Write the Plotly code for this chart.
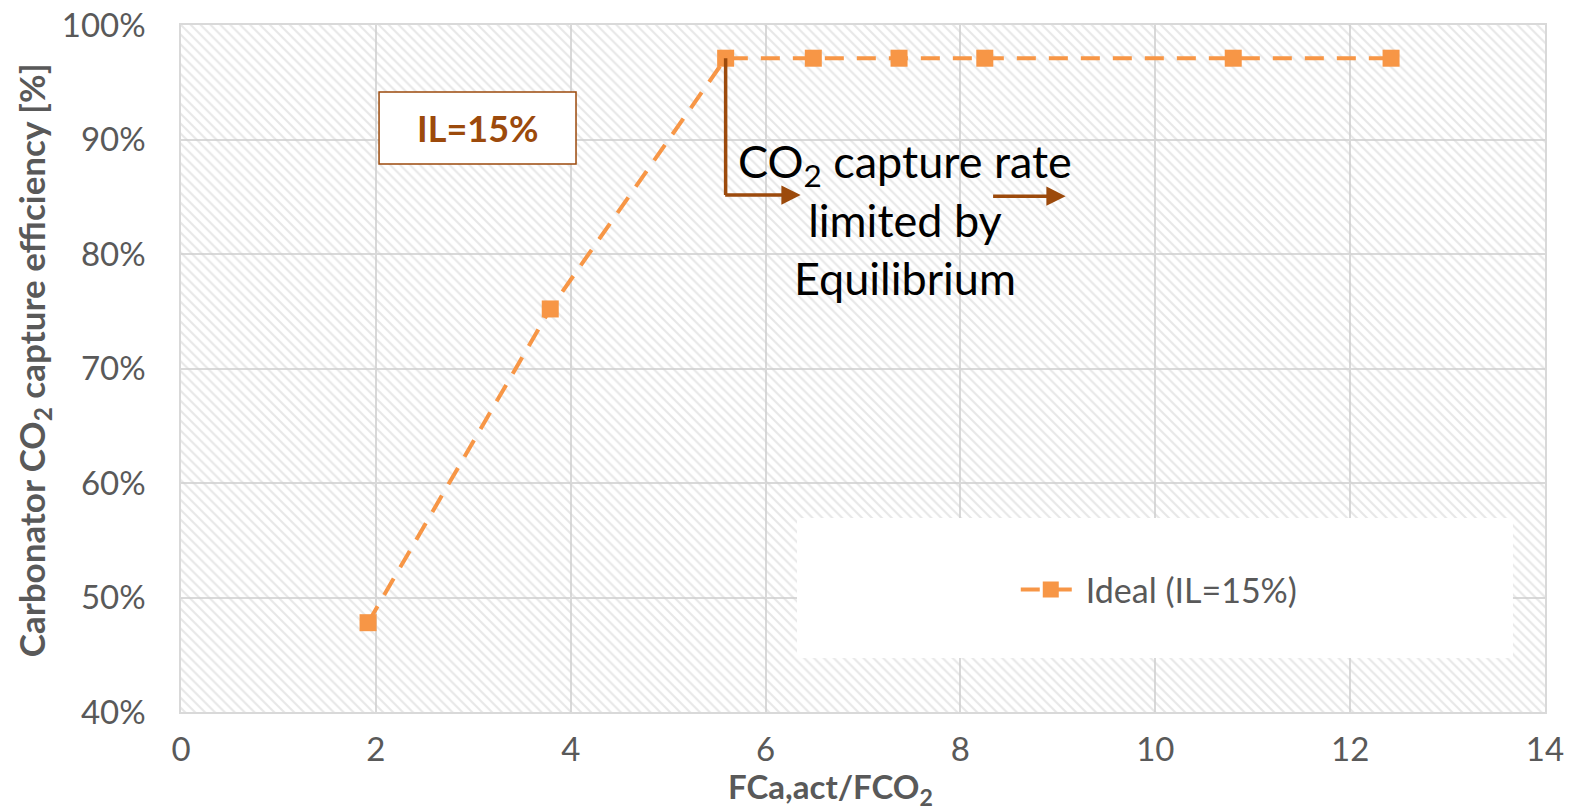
import plotly.graph_objects as go

# Ca-looping carbonator: capture efficiency vs. Ca/CO2 molar flow ratio
ratio_fca_fco2 = [1.92, 3.79, 5.59, 6.49, 7.37, 8.25, 10.80, 12.42]
capture_eff = [0.478, 0.752, 0.971, 0.971, 0.971, 0.971, 0.971, 0.971]
series_name = "Ideal (IL=15%)"

x_range = [0, 14]
y_range = [0.40, 1.00]

FONT = "Lato"
GREY = "#595959"
ORANGE = "#F79646"
BROWN = "#9C4A0C"

fig = go.Figure()

# hatched plot background
fig.add_trace(go.Scatter(
    x=[x_range[0], x_range[1], x_range[1], x_range[0], x_range[0]],
    y=[y_range[0], y_range[0], y_range[1], y_range[1], y_range[0]],
    mode="lines", line=dict(width=0), fill="toself",
    fillcolor="rgba(0,0,0,0)",
    fillpattern=dict(shape="\\", fgcolor="#d0d0d0", bgcolor="rgba(0,0,0,0)",
                     size=7, solidity=0.3),
    hoverinfo="skip", showlegend=False,
))

fig.add_trace(go.Scatter(
    x=ratio_fca_fco2, y=capture_eff, name=series_name,
    mode="lines+markers",
    line=dict(color=ORANGE, width=4, dash="19px,13px"),
    marker=dict(symbol="square", size=17, color=ORANGE),
))

# white panel behind the legend
fig.add_shape(type="rect", xref="paper", yref="paper",
              x0=0.4516, x1=0.9765, y0=0.0786, y1=0.2824,
              fillcolor="white", line=dict(width=0), layer="above")

# "IL=15%" label box
fig.add_shape(type="rect", xref="paper", yref="paper",
              x0=0.1452, x1=0.2896, y0=0.7977, y1=0.9025,
              fillcolor="white", line=dict(color=BROWN, width=1.5), layer="above")
fig.add_annotation(xref="paper", yref="paper", x=0.2174, y=0.8501,
                   xanchor="center", yanchor="middle",
                   text="<b>IL=15%</b>", showarrow=False,
                   font=dict(family=FONT, size=36, color=BROWN))

# equilibrium-limit arrows
knee_x = ratio_fca_fco2[2]
knee_y = capture_eff[2]
arrow_y = 0.8515
fig.add_shape(type="line", xref="x", yref="y",
              x0=knee_x, x1=knee_x, y0=knee_y, y1=arrow_y,
              line=dict(color=BROWN, width=3.5), layer="above")
fig.add_annotation(x=6.36, y=arrow_y, ax=knee_x - 0.02, ay=arrow_y,
                   xref="x", yref="y", axref="x", ayref="y",
                   text="", showarrow=True, arrowhead=2, arrowsize=1.1,
                   arrowwidth=3.5, arrowcolor=BROWN)
fig.add_annotation(x=9.08, y=arrow_y - 0.001, ax=8.32, ay=arrow_y - 0.001,
                   xref="x", yref="y", axref="x", ayref="y",
                   text="", showarrow=True, arrowhead=2, arrowsize=1.1,
                   arrowwidth=3.5, arrowcolor=BROWN)

fig.add_annotation(x=7.43, y=0.830, xref="x", yref="y",
                   xanchor="center", yanchor="middle",
                   text="CO<sub>2</sub> capture rate<br>limited by<br>Equilibrium",
                   showarrow=False, align="center",
                   font=dict(family=FONT, size=45, color="black"))

# axis titles
fig.add_annotation(xref="paper", yref="paper", x=0.4765, y=-0.111,
                   xanchor="center", yanchor="middle",
                   text="<b>FCa,act/FCO<sub>2</sub></b>", showarrow=False,
                   font=dict(family=FONT, size=33, color=GREY))
fig.add_annotation(xref="paper", yref="paper", x=-0.1085, y=0.512,
                   xanchor="center", yanchor="middle",
                   text="<b>Carbonator CO<sub>2</sub> capture efficiency [%]</b>",
                   showarrow=False, textangle=-90,
                   font=dict(family=FONT, size=35, color=GREY))

fig.update_layout(
    width=1570, height=811,
    margin=dict(l=181, r=25, t=25, b=99),
    paper_bgcolor="white", plot_bgcolor="white",
    font=dict(family=FONT, color=GREY),
    showlegend=True,
    legend=dict(x=0.612, y=0.1776, xanchor="left", yanchor="middle",
                bgcolor="rgba(0,0,0,0)", itemwidth=60,
                font=dict(family=FONT, size=34, color=GREY)),
)
fig.update_xaxes(range=x_range, dtick=2, tick0=0, automargin=False,
                 showgrid=True, gridcolor="#d9d9d9", gridwidth=1.5,
                 zeroline=False, showline=True, linecolor="#d9d9d9",
                 linewidth=1.5, mirror=True,
                 ticks="", ticklabelstandoff=8,
                 tickfont=dict(family=FONT, size=33, color=GREY))
fig.update_yaxes(range=y_range, dtick=0.1, tick0=0.4, tickformat=".0%",
                 automargin=False,
                 showgrid=True, gridcolor="#d9d9d9", gridwidth=1.5,
                 zeroline=False, showline=True, linecolor="#d9d9d9",
                 linewidth=1.5, mirror=True,
                 ticks="", ticklabelstandoff=27,
                 tickfont=dict(family=FONT, size=33, color=GREY))

fig.write_html("out.html")
